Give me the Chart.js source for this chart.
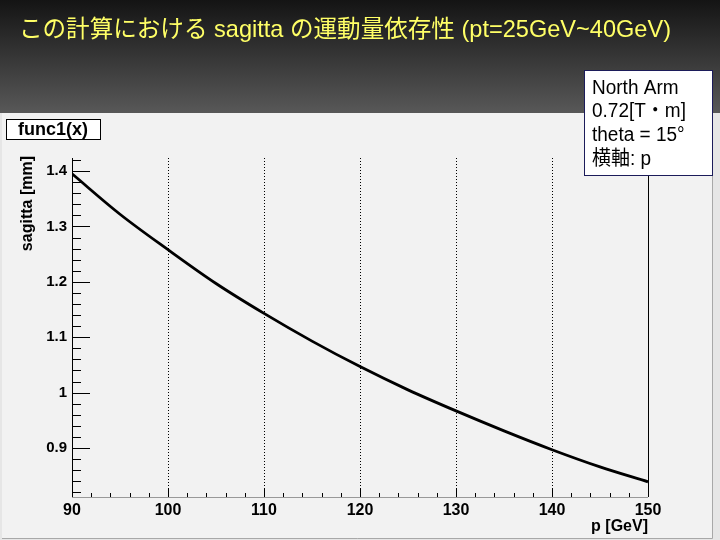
<!DOCTYPE html>
<html>
<head>
<meta charset="utf-8">
<script src="https://cdn.jsdelivr.net/npm/chart.js@4"></script>
<style>
  html, body { margin: 0; padding: 0; background: #1e1e1e; }
  #wrap { width: 720px; height: 540px; }
</style>
</head>
<body>
<div id="wrap"><canvas id="chart" width="720" height="540"></canvas></div>
<script>
// momentum p [GeV] and sagitta [mm]
const momentum = [90, 95, 100, 105, 110, 115, 120, 125, 130, 135, 140, 145, 150];
const sagitta = [1.395, 1.322, 1.258, 1.197, 1.143, 1.093, 1.047, 1.005, 0.967, 0.931, 0.897, 0.866, 0.839];
const xTicks = [90, 100, 110, 120, 130, 140, 150];
const yTicks = [0.9, 1.0, 1.1, 1.2, 1.3, 1.4];
const gridLines = [100, 110, 120, 130, 140];

const titleText = 'この計算における sagitta の運動量依存性 (pt=25GeV~40GeV)';
const noteLines = ['North Arm', '0.72[T・m]', 'theta = 15°', '横軸: p'];
const funcName = 'func1(x)';
const yTitle = 'sagitta [mm]';
const xTitle = 'p [GeV]';

const FONT = '"Liberation Sans", Arial, "Noto Sans CJK JP", sans-serif';

const slidePlugin = {
    id: 'slide',
    beforeDraw(chart) {
        const ctx = chart.ctx;
        ctx.save();
        // dark slide header
        const g = ctx.createLinearGradient(0, 0, 0, 113);
        g.addColorStop(0, '#141414');
        g.addColorStop(1, '#585858');
        ctx.fillStyle = g;
        ctx.fillRect(0, 0, 720, 113);
        ctx.fillStyle = '#e6e6e6';
        ctx.fillRect(0, 113, 720, 427);
        // ROOT pad
        ctx.fillStyle = '#f2f2f2';
        ctx.fillRect(2, 113, 711, 425);
        ctx.strokeStyle = '#a8a8a8';
        ctx.lineWidth = 1;
        ctx.beginPath();
        ctx.moveTo(712.5, 113);
        ctx.lineTo(712.5, 538.5);
        ctx.lineTo(2, 538.5);
        ctx.stroke();
        ctx.restore();
    },
    beforeDatasetsDraw(chart) {
        const ctx = chart.ctx;
        const xs = chart.scales.x, ys = chart.scales.y;
        const top = chart.chartArea.top, bottom = chart.chartArea.bottom;
        const left = chart.chartArea.left, right = chart.chartArea.right;
        ctx.save();
        ctx.lineWidth = 1;
        // dotted grid
        ctx.strokeStyle = '#000';
        ctx.setLineDash([1, 2]);
        gridLines.forEach(v => {
            const px = Math.round(xs.getPixelForValue(v)) + 0.5;
            ctx.beginPath();
            ctx.moveTo(px, top);
            ctx.lineTo(px, bottom);
            ctx.stroke();
        });
        ctx.setLineDash([]);
        // right frame line
        ctx.beginPath();
        ctx.moveTo(Math.round(right) + 0.5, top);
        ctx.lineTo(Math.round(right) + 0.5, bottom);
        ctx.stroke();
        // x axis
        ctx.strokeStyle = '#999';
        ctx.beginPath();
        ctx.moveTo(left, Math.round(bottom) + 0.5);
        ctx.lineTo(right, Math.round(bottom) + 0.5);
        ctx.stroke();
        ctx.strokeStyle = '#000';
        for (let v = 90; v <= 150; v += 2) {
            const px = Math.round(xs.getPixelForValue(v)) + 0.5;
            const len = (v % 10 === 0) ? 9 : 4;
            ctx.beginPath();
            ctx.moveTo(px, bottom);
            ctx.lineTo(px, bottom - len);
            ctx.stroke();
        }
        // y axis
        ctx.beginPath();
        ctx.moveTo(Math.round(left) + 0.5, top);
        ctx.lineTo(Math.round(left) + 0.5, bottom);
        ctx.stroke();
        for (let i = 41; i <= 71; i++) {
            const v = i * 0.02;
            if (v < ys.min || v > ys.max) continue;
            const py = Math.round(ys.getPixelForValue(v)) + 0.5;
            const len = (i % 5 === 0) ? 18 : 9;
            ctx.beginPath();
            ctx.moveTo(left, py);
            ctx.lineTo(left + len, py);
            ctx.stroke();
        }
        ctx.restore();
    },
    afterDraw(chart) {
        const ctx = chart.ctx;
        ctx.save();
        // slide title
        ctx.fillStyle = '#ffff66';
        ctx.font = '24px ' + FONT;
        ctx.textBaseline = 'alphabetic';
        ctx.textAlign = 'left';
        ctx.fillText(titleText, 19, 37, 652);

        // func1(x) box
        ctx.fillStyle = '#fff';
        ctx.fillRect(6, 120, 94, 19);
        ctx.strokeStyle = '#000';
        ctx.lineWidth = 1;
        ctx.strokeRect(6.5, 119.5, 94, 20);
        ctx.fillStyle = '#000';
        ctx.font = 'bold 18px ' + FONT;
        ctx.textAlign = 'center';
        ctx.textBaseline = 'middle';
        ctx.fillText(funcName, 53, 130);

        // axis titles
        ctx.font = 'bold 16px ' + FONT;
        ctx.textBaseline = 'alphabetic';
        ctx.save();
        ctx.translate(32, 156);
        ctx.rotate(-Math.PI / 2);
        ctx.textAlign = 'right';
        ctx.fillText(yTitle, 0, 0);
        ctx.restore();
        ctx.textAlign = 'right';
        ctx.fillText(xTitle, chart.chartArea.right, 531);

        // note box
        ctx.fillStyle = '#fff';
        ctx.fillRect(584, 70, 129, 106);
        ctx.strokeStyle = '#1c1c5a';
        ctx.strokeRect(584.5, 70.5, 128, 105);
        ctx.fillStyle = '#000';
        ctx.textAlign = 'left';
        const base = [94, 117, 141, 165];
        noteLines.forEach((t, i) => {
            ctx.save();
            ctx.translate(592, base[i]);
            ctx.scale(1, 1.08);
            ctx.font = '19px ' + FONT;
            ctx.fillText(t, 0, 0, 114);
            ctx.restore();
        });
        ctx.restore();
    }
};

const ctx = document.getElementById('chart').getContext('2d');
new Chart(ctx, {
    type: 'line',
    data: {
        labels: momentum,
        datasets: [{
            label: funcName,
            data: momentum.map((p, i) => ({ x: p, y: sagitta[i] })),
            borderColor: '#000',
            borderWidth: 2.8,
            pointRadius: 0,
            fill: false,
            cubicInterpolationMode: 'monotone'
        }]
    },
    options: {
        responsive: false,
        animation: false,
        layout: { padding: { top: 158, right: 72, left: 0, bottom: 0 } },
        plugins: {
            legend: { display: false },
            tooltip: { enabled: false }
        },
        scales: {
            x: {
                type: 'linear',
                min: 90,
                max: 150,
                afterFit: s => { s.height = 43; },
                afterBuildTicks: s => { s.ticks = xTicks.map(v => ({ value: v })); },
                grid: { display: false, drawTicks: false },
                border: { display: false },
                ticks: {
                    color: '#000',
                    padding: 4,
                    maxRotation: 0,
                    autoSkip: false,
                    font: { family: FONT, size: 16, weight: 'bold' },
                    callback: v => String(v)
                }
            },
            y: {
                type: 'linear',
                min: 0.8116,
                max: 1.4235,
                afterFit: s => { s.width = 72; },
                afterBuildTicks: s => { s.ticks = yTicks.map(v => ({ value: v })); },
                grid: { display: false, drawTicks: false },
                border: { display: false },
                ticks: {
                    color: '#000',
                    padding: 5,
                    autoSkip: false,
                    font: { family: FONT, size: 15, weight: 'bold' },
                    callback: v => (Math.abs(v - 1) < 1e-9 ? '1' : v.toFixed(1))
                }
            }
        }
    },
    plugins: [slidePlugin]
});
</script>
</body>
</html>
